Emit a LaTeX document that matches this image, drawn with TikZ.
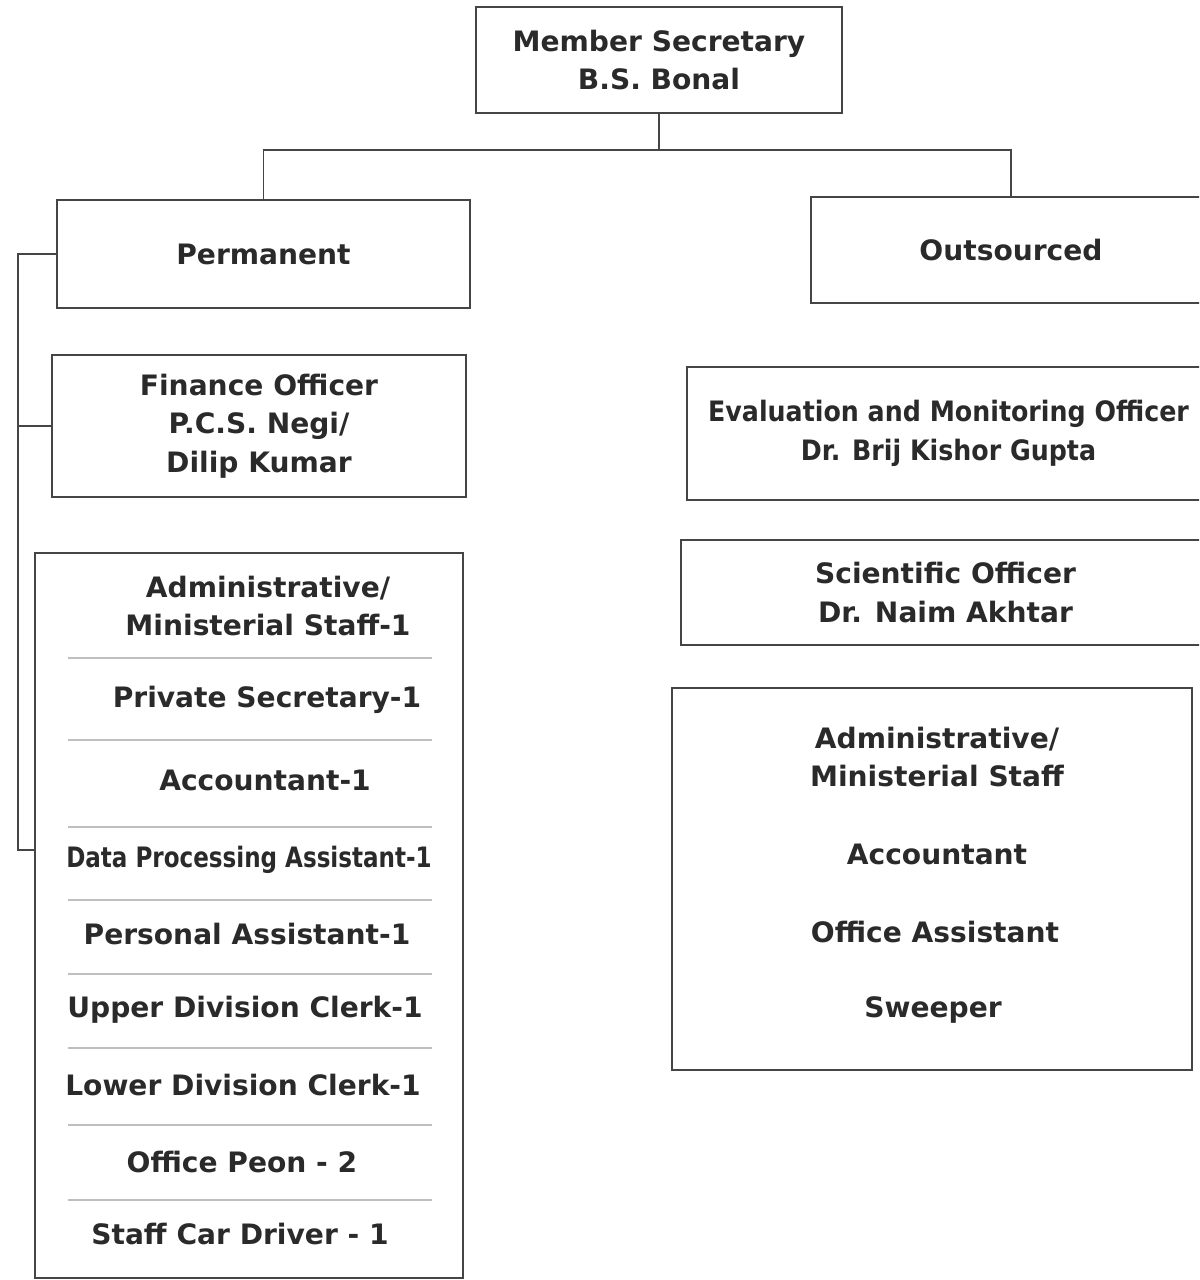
\documentclass[tikz,border=0pt]{standalone}
\usepackage{fontspec}
\setmainfont{DejaVu Sans}
\definecolor{ink}{HTML}{2A2A2A}
\definecolor{rule}{HTML}{454545}
\tikzset{x=0.02cm, y=-0.02cm,
  box/.style={draw=rule, line width=0.9pt, rectangle, inner sep=0pt, align=center,
    font=\fontsize{16}{22}\selectfont\bfseries, text=ink},
  item/.style={font=\fontsize{16}{22}\selectfont\bfseries, text=ink, align=center},
  sep/.style={draw=gray!50, line width=0.6pt},
  link/.style={draw=rule, line width=0.9pt}}
\newcommand{\narrow}[2][0.85]{\scalebox{#1}[1]{#2}}

\begin{document}
\begin{tikzpicture}
  \useasboundingbox (0,0) rectangle (1199,1280);
  \clip (0,0) rectangle (1199,1280);
  % head and the two branches
  \node[box, minimum width=7.32cm, minimum height=2.12cm] (ms) at (659,60) {Member Secretary\\B.S. Bonal};
  \node[box, minimum width=8.26cm, minimum height=2.16cm] (perm) at (263.5,254) {Permanent};
  \node[box, minimum width=8.0cm, minimum height=2.12cm] (out) at (1011,250) {Outsourced};
  % permanent side
  \node[box, minimum width=8.28cm, minimum height=2.84cm] (fin) at (259,426) {Finance Officer\\P.C.S. Negi/\\Dilip Kumar};
  \node[box, minimum width=8.56cm, minimum height=14.5cm] (adm) at (249,915.5) {};
  \node[item] (a1) at (268,606) {Administrative/\\Ministerial Staff-1};
  \node[item] (a2) at (267,700) {Private Secretary-1};
  \node[item] (a3) at (265,780) {Accountant-1};
  \node[item] (a4) at (249,860) {\narrow[0.82]{Data Processing Assistant-1}};
  \node[item] (a5) at (247,934) {Personal Assistant-1};
  \node[item] (a6) at (245,1010) {Upper Division Clerk-1};
  \node[item] (a7) at (243,1085) {Lower Division Clerk-1};
  \node[item] (a8) at (242,1162) {Office Peon - 2};
  \node[item] (a9) at (240,1234) {Staff Car Driver - 1};
  \foreach \y in {658,740,827,900,974,1048,1125,1200}
    \draw[sep] (68,\y) -- (432,\y);
  % outsourced side
  \node[box, minimum width=10.46cm, minimum height=2.66cm] (eval) at (948.5,433.5)
    {\narrow[0.9]{Evaluation and Monitoring Officer}\\\narrow[0.9]{Dr. Brij Kishor Gupta}};
  \node[box, minimum width=10.58cm, minimum height=2.1cm] (sci) at (945.5,592.5) {Scientific Officer\\Dr. Naim Akhtar};
  \node[box, minimum width=10.4cm, minimum height=7.64cm] (osa) at (932,879) {};
  \node[item] (o1) at (937,757) {Administrative/\\Ministerial Staff};
  \node[item] (o2) at (937,854) {Accountant};
  \node[item] (o3) at (935,932) {Office Assistant};
  \node[item] (o4) at (933,1010) {Sweeper};
  % connectors
  \coordinate (bar) at (0,150);
  \coordinate (hub) at (ms.south |- bar);
  \coordinate (rail) at (18,0);
  \coordinate (tap) at (0,850);
  \draw[link] (ms.south) -- (hub);
  \draw[link] (perm.north) |- (hub) -| (out.north);
  \draw[link] (perm.west) -- (perm.west -| rail) -- (rail |- tap) -- (adm.west |- tap);
  \draw[link] (fin.west) -- (fin.west -| rail);
\end{tikzpicture}
\end{document}
